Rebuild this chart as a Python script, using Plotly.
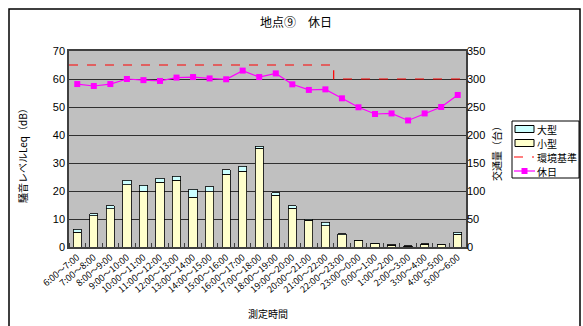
import plotly.graph_objects as go

# Measurement periods (hourly)
periods = [
    "6:00～7:00", "7:00～8:00", "8:00～9:00", "9:00～10:00", "10:00～11:00",
    "11:00～12:00", "12:00～13:00", "13:00～14:00", "14:00～15:00", "15:00～16:00",
    "16:00～17:00", "17:00～18:00", "18:00～19:00", "19:00～20:00", "20:00～21:00",
    "21:00～22:00", "22:00～23:00", "23:00～0:00", "0:00～1:00", "1:00～2:00",
    "2:00～3:00", "3:00～4:00", "4:00～5:00", "5:00～6:00",
]

# Traffic volume (vehicles per hour)
small_vehicles = [26, 56, 68, 111, 100, 116, 119, 89, 99, 130, 135, 176,
                  92, 69, 48, 38, 22, 11, 6, 3, 1, 5, 4, 23]
large_vehicles = [6, 3, 6, 8, 10, 7, 7, 14, 9, 8, 9, 4,
                  5, 5, 2, 6, 2, 1, 1, 1, 1, 1, 1, 3]

# Noise level Leq (dB) on a holiday
holiday_leq = [58.2, 57.5, 58.2, 60.0, 59.6, 59.3, 60.5, 60.7, 60.2, 59.9, 63.0, 60.7,
               62.0, 58.1, 56.1, 56.3, 53.1, 49.9, 47.5, 47.7, 45.2, 47.7, 50.0, 54.3]

# Environmental standard (dB): daytime / night-time
standard_db = [65, 65, 65, 65, 65, 65, 65, 65, 65, 65, 65, 65,
               65, 65, 65, 65, 60, 60, 60, 60, 60, 60, 60, 60]

left_ticks = [0, 10, 20, 30, 40, 50, 60, 70]
right_ticks = [0, 50, 100, 150, 200, 250, 300, 350]

SMALL_COLOR = "#FFFFCC"
LARGE_COLOR = "#CCFFFF"
STD_COLOR = "#FF0000"
LINE_COLOR = "#FF00FF"

FONT = "Liberation Sans, Arial, Noto Sans CJK JP, sans-serif"
JFONT = "Noto Sans CJK JP, sans-serif"

W, H = 583, 326
ML, MR, MT, MB = 69, 117, 51, 79
PW, PH = W - ML - MR, H - MT - MB


def px(x):
    """page pixel x -> paper x"""
    return (x - ML) / PW


def py(y):
    """page pixel y (from top) -> paper y"""
    return (H - MB - y) / PH


idx = list(range(len(periods)))

# step outline for the standard, spanning each category's full width
std_x, std_y = [], []
for i, v in enumerate(standard_db):
    std_x += [i - 0.5, i + 0.5]
    std_y += [v, v]

fig = go.Figure()

fig.add_trace(go.Bar(
    x=idx, y=small_vehicles, name="小型", yaxis="y2",
    marker=dict(color=SMALL_COLOR, line=dict(color="#000000", width=0.8)),
))
fig.add_trace(go.Bar(
    x=idx, y=large_vehicles, name="大型", yaxis="y2",
    marker=dict(color=LARGE_COLOR, line=dict(color="#000000", width=0.8)),
))
fig.add_trace(go.Scatter(
    x=std_x, y=std_y, name="環境基準", mode="lines", line_shape="hv",
    line=dict(color=STD_COLOR, width=1.2, dash="dash"),
))
fig.add_trace(go.Scatter(
    x=idx, y=holiday_leq, name="休日", mode="lines+markers",
    line=dict(color=LINE_COLOR, width=1.2),
    marker=dict(symbol="square", size=6, color=LINE_COLOR),
))

# compact boxed legend drawn with shapes and annotations
legend_rows = [("大型", 129), ("小型", 143), ("環境基準", 157), ("休日", 171)]
shapes = [
    # outer chart frame
    dict(type="rect", xref="paper", yref="paper",
         x0=px(9), x1=px(580), y0=py(340), y1=py(9),
         line=dict(color="#000000", width=1.5), layer="below"),
    # legend box
    dict(type="rect", xref="paper", yref="paper",
         x0=px(512), x1=px(579), y0=py(178), y1=py(121),
         line=dict(color="#000000", width=1), fillcolor="#FFFFFF"),
]
annotations = []
for name, yc in legend_rows:
    if name in ("大型", "小型"):
        shapes.append(dict(
            type="rect", xref="paper", yref="paper",
            x0=px(515), x1=px(534), y0=py(yc + 3.5), y1=py(yc - 3.5),
            line=dict(color="#000000", width=1),
            fillcolor=LARGE_COLOR if name == "大型" else SMALL_COLOR))
    elif name == "環境基準":
        shapes.append(dict(
            type="line", xref="paper", yref="paper",
            x0=px(514), x1=px(534), y0=py(yc), y1=py(yc),
            line=dict(color=STD_COLOR, width=1.2, dash="dash")))
    else:
        shapes.append(dict(
            type="line", xref="paper", yref="paper",
            x0=px(514), x1=px(535), y0=py(yc), y1=py(yc),
            line=dict(color=LINE_COLOR, width=1.2)))
        shapes.append(dict(
            type="rect", xref="paper", yref="paper",
            x0=px(521.5), x1=px(527.5), y0=py(yc + 3), y1=py(yc - 3),
            line=dict(color=LINE_COLOR, width=0), fillcolor=LINE_COLOR))
    annotations.append(dict(
        text=name, xref="paper", yref="paper", x=px(536), y=py(yc),
        xanchor="left", yanchor="middle", showarrow=False, borderpad=0,
        font=dict(family=JFONT, size=10)))

annotations += [
    dict(text="騒音レベルLeq（dB）", textangle=-90, xref="paper", yref="paper",
         x=px(22), y=py(153), showarrow=False, xanchor="center", yanchor="middle",
         font=dict(family=JFONT, size=10)),
    dict(text="交通量（台）", textangle=-90, xref="paper", yref="paper",
         x=px(496), y=py(151), showarrow=False, xanchor="center", yanchor="middle",
         font=dict(family=JFONT, size=10)),
    dict(text="測定時間", xref="paper", yref="paper",
         x=px(268), y=py(313), showarrow=False, xanchor="center", yanchor="middle",
         font=dict(family=JFONT, size=10)),
]

fig.update_layout(
    width=W, height=H,
    margin=dict(l=ML, r=MR, t=MT, b=MB, autoexpand=False),
    paper_bgcolor="#FFFFFF",
    plot_bgcolor="#C0C0C0",
    barmode="stack",
    bargap=0.5,
    font=dict(family=FONT, size=11, color="#000000"),
    showlegend=False,
    xaxis=dict(
        range=[-0.5, len(periods) - 0.5],
        tickmode="array", tickvals=idx, ticktext=periods,
        tickangle=-40, tickfont=dict(size=9, family=JFONT),
        ticks="", showgrid=False, zeroline=False,
        showline=True, linecolor="#404040", linewidth=1.5, mirror=True,
        minor=dict(tick0=-0.5, dtick=1, ticks="inside", ticklen=4,
                   tickcolor="#404040", showgrid=False),
    ),
    yaxis=dict(
        range=[0, 70], tickmode="array", tickvals=left_ticks,
        showgrid=True, gridcolor="#303030", gridwidth=1,
        zeroline=False, showline=True, linecolor="#404040", linewidth=1.5,
        mirror=True, ticks="", tickfont=dict(size=11),
    ),
    yaxis2=dict(
        range=[0, 350], tickmode="array", tickvals=right_ticks,
        overlaying="y", side="right", showgrid=False, zeroline=False,
        showline=False, ticks="", tickfont=dict(size=11),
    ),
    title=dict(
        text="地点⑨　休日", x=296 / W, xanchor="center",
        y=1 - 23 / H, yanchor="middle",
        font=dict(family=JFONT, size=12),
    ),
    shapes=shapes,
    annotations=annotations,
)

fig.write_html("out.html")
